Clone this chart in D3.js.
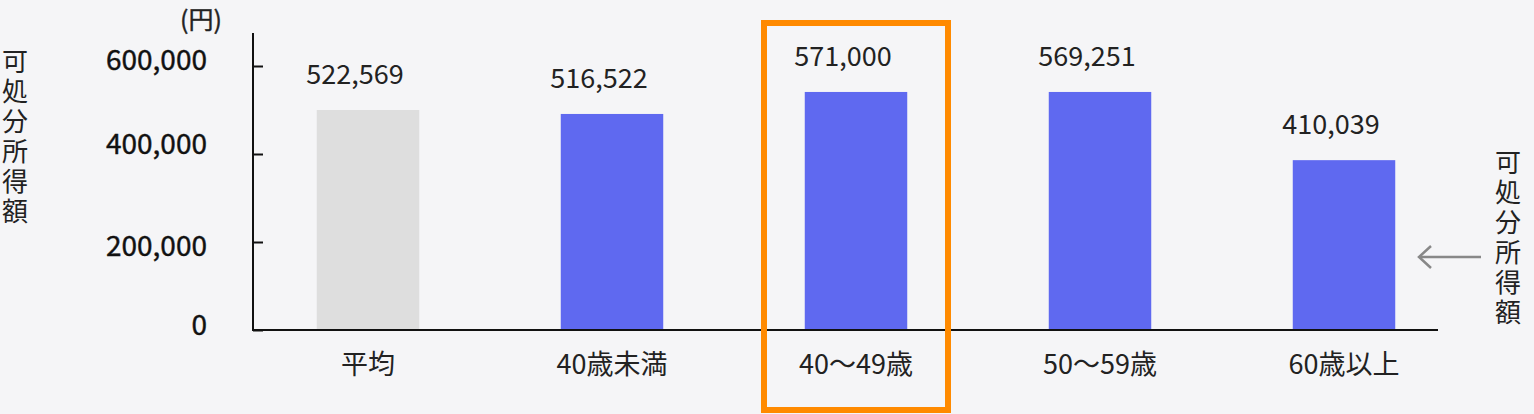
<!DOCTYPE html>
<html>
<head>
<meta charset="utf-8">
<script src="https://cdn.jsdelivr.net/npm/d3@7"></script>
<style>
  html, body { margin: 0; padding: 0; background: #f5f5f7; }
  svg { display: block; font-family: "Noto Sans CJK JP", "Noto Sans", sans-serif; }
</style>
</head>
<body>
<div id="plot"></div>
<script>
// categories and values
const categories = ["平均", "40歳未満", "40〜49歳", "50〜59歳", "60歳以上"];
// printed labels above the bars
const labelValues = [522569, 516522, 571000, 569251, 410039];
// bar heights as drawn (they don't quite match the printed labels)
const barValues = [500000, 491000, 541000, 541000, 386000];
const barColors = ["#dedede", "#5f69f0", "#5f69f0", "#5f69f0", "#5f69f0"];
const yTicks = [0, 200000, 400000, 600000];
const highlight = "40〜49歳";
const yTitle = "可処分所得額";

const width = 1534;
const height = 414;
const axisX = 253;
const baseY = 330;
const topY = 33;
const lineEnd = 1438;
const textColor = "#222";

const svg = d3.select("#plot")
    .append("svg")
    .attr("width", width)
    .attr("height", height);

svg.append("rect")
    .attr("width", width)
    .attr("height", height)
    .attr("fill", "#f5f5f7");

const y = d3.scaleLinear()
    .domain([0, 675000])
    .range([baseY, topY]);

const x = d3.scaleBand()
    .domain(categories)
    .range([246, 1466])
    .paddingInner(0.58)
    .paddingOuter(0.29);

const fmt = d3.format(",");

// bars
svg.append("g")
    .selectAll("rect")
    .data(categories)
    .enter()
    .append("rect")
    .attr("x", d => x(d))
    .attr("width", x.bandwidth())
    .attr("y", (d, i) => y(barValues[i]))
    .attr("height", (d, i) => baseY - y(barValues[i]))
    .attr("fill", (d, i) => barColors[i]);

// value labels (sit a bit left of bar centre in the original)
svg.append("g")
    .selectAll("text")
    .data(categories)
    .enter()
    .append("text")
    .attr("x", d => x(d) + x.bandwidth() / 2 - 13)
    .attr("y", (d, i) => y(barValues[i]) - 26)
    .attr("text-anchor", "middle")
    .attr("font-size", 27)
    .attr("fill", textColor)
    .text((d, i) => fmt(labelValues[i]));

// y axis, ticks pointing inwards
const yAxis = d3.axisRight(y)
    .tickValues(yTicks)
    .tickSize(10)
    .tickFormat(fmt);

const yg = svg.append("g")
    .attr("transform", `translate(${axisX},0)`)
    .call(yAxis);

yg.select(".domain").remove();
yg.selectAll(".tick line").attr("stroke", "#111").attr("stroke-width", 2);
// labels in the original don't sit exactly level with their ticks
const tickNudge = {0: -5, 200000: 4, 400000: -10, 600000: -6};
yg.selectAll(".tick text")
    .attr("x", -46)
    .attr("y", d => tickNudge[d])
    .attr("dy", "0.35em")
    .attr("text-anchor", "end")
    .attr("font-size", 28)
    .attr("font-family", "\"Noto Sans CJK JP\", sans-serif")
    .attr("fill", "#111")
    .attr("stroke", "#111")
    .attr("stroke-width", 0.4);

svg.append("line")
    .attr("x1", axisX).attr("x2", axisX)
    .attr("y1", topY).attr("y2", baseY + 1)
    .attr("stroke", "#111")
    .attr("stroke-width", 2);

svg.append("line")
    .attr("x1", axisX).attr("x2", lineEnd)
    .attr("y1", baseY).attr("y2", baseY)
    .attr("stroke", "#111")
    .attr("stroke-width", 2);

// category labels
svg.append("g")
    .selectAll("text")
    .data(categories)
    .enter()
    .append("text")
    .attr("x", d => x(d) + x.bandwidth() / 2)
    .attr("y", 365)
    .attr("dy", "0.35em")
    .attr("text-anchor", "middle")
    .attr("font-size", 27)
    .attr("fill", textColor)
    .text(d => d);

// unit
svg.append("text")
    .attr("x", 222)
    .attr("y", 29)
    .attr("text-anchor", "end")
    .attr("font-size", 25)
    .attr("fill", textColor)
    .attr("stroke", textColor)
    .attr("stroke-width", 0.4)
    .text("(円)");

// vertical titles, left and right
function verticalTitle(cx, top) {
  svg.append("text")
    .attr("x", cx)
    .attr("y", top)
    .attr("writing-mode", "vertical-rl")
    .style("text-orientation", "upright")
    .style("letter-spacing", "4px")
    .attr("font-size", 26)
    .attr("fill", textColor)
    .text(yTitle);
}
verticalTitle(15, 48);
verticalTitle(1508, 149);

// arrow pointing at the bars
svg.append("line")
    .attr("x1", 1481).attr("x2", 1419)
    .attr("y1", 257).attr("y2", 257)
    .attr("stroke", "#888")
    .attr("stroke-width", 2.5);
svg.append("path")
    .attr("d", "M1431,246 L1419,257 L1431,268")
    .attr("fill", "none")
    .attr("stroke", "#888")
    .attr("stroke-width", 2.5);

// orange highlight box
const hx = x(highlight) + x.bandwidth() / 2;
svg.append("rect")
    .attr("x", hx - 92)
    .attr("y", 23)
    .attr("width", 184)
    .attr("height", 387)
    .attr("fill", "none")
    .attr("stroke", "#ff8a00")
    .attr("stroke-width", 6);
</script>
</body>
</html>
